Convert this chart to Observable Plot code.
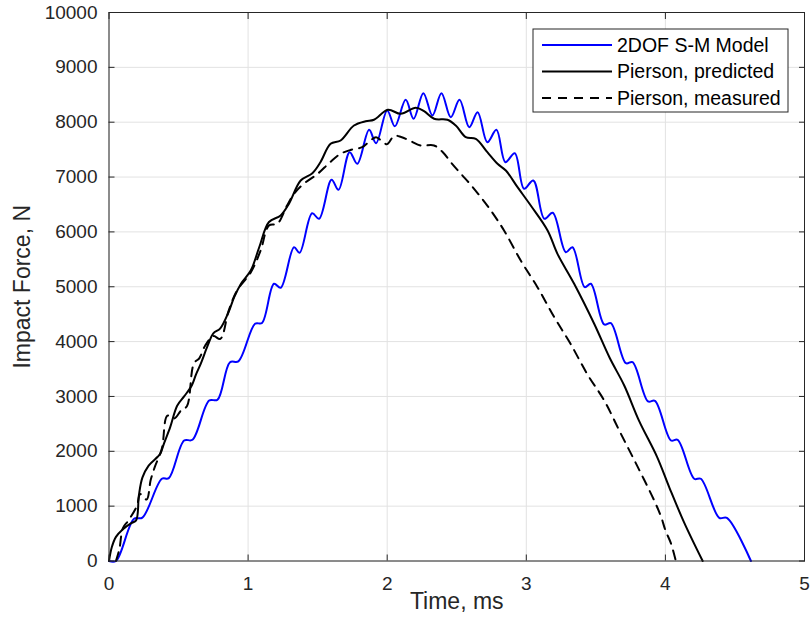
<!DOCTYPE html>
<html>
<head>
<meta charset="utf-8">
<script src="https://cdn.jsdelivr.net/npm/d3@7"></script>
<script src="https://cdn.jsdelivr.net/npm/@observablehq/plot@0.6"></script>
<style>
  html, body { margin: 0; padding: 0; background: #fff; }
  #wrap { position: relative; width: 810px; height: 635px; overflow: hidden; }
  #legend { position: absolute; }
</style>
</head>
<body>
<div id="wrap"></div>
<script>
// ---- tick labels ----
const xTicks = [0, 1, 2, 3, 4, 5];
const yTicks = [0, 1000, 2000, 3000, 4000, 5000, 6000, 7000, 8000, 9000, 10000];

// ---- series names ----
const seriesNames = ["2DOF S-M Model", "Pierson, predicted", "Pierson, measured"];

// ---- 2DOF S-M Model (time ms, force N) ----
const modelTime = [0, 0.05, 0.18, 0.24, 0.38, 0.43, 0.54, 0.60, 0.72, 0.78, 0.87, 0.93, 1.05, 1.10,
  1.186, 1.234, 1.33, 1.37, 1.46, 1.51, 1.60, 1.65, 1.73, 1.785, 1.87, 1.92, 2.00, 2.055, 2.133, 2.19,
  2.26, 2.325, 2.39, 2.457, 2.52, 2.59, 2.65, 2.72, 2.785, 2.85, 2.917, 2.984, 3.05, 3.13, 3.19,
  3.284, 3.332, 3.42, 3.464, 3.56, 3.608, 3.716, 3.764, 3.875, 3.925, 4.04, 4.088, 4.207, 4.255,
  4.387, 4.442, 4.615];
const modelForce = [0, 0, 769, 790, 1499, 1510, 2197, 2210, 2926, 2940, 3625, 3640, 4325, 4340,
  5054, 4981, 5721, 5619, 6341, 6239, 6950, 6767, 7453, 7241, 7861, 7617, 8215, 7925, 8410, 8062,
  8530, 8122, 8530, 8091, 8408, 7909, 8183, 7635, 7861, 7271, 7435, 6786, 6937, 6239, 6350,
  5630, 5721, 4992, 5054, 4312, 4336, 3606, 3625, 2910, 2920, 2197, 2209, 1499, 1499,
  787, 787, 0];

// ---- Pierson, predicted ----
const predTime = [0, 0.02, 0.05, 0.10, 0.16, 0.195, 0.215, 0.24, 0.285, 0.35, 0.37, 0.395, 0.44, 0.49,
  0.54, 0.595, 0.625, 0.66, 0.71, 0.75, 0.80, 0.86, 0.90, 0.95, 1.02, 1.08, 1.15, 1.234, 1.293,
  1.378, 1.462, 1.52, 1.593, 1.665, 1.761, 1.845, 1.905, 2.005, 2.097, 2.205, 2.265, 2.337, 2.433,
  2.493, 2.565, 2.637, 2.72, 2.793, 2.853, 2.937, 3.032, 3.153, 3.224, 3.344, 3.488, 3.60, 3.704,
  3.81, 3.94, 4.03, 4.135, 4.268];
const predForce = [0, 250, 440, 580, 690, 740, 1200, 1520, 1740, 1900, 1960, 2140, 2440, 2830,
  3000, 3200, 3400, 3600, 3930, 4150, 4240, 4540, 4810, 5060, 5300, 5720, 6180, 6300, 6510,
  6937, 7070, 7271, 7606, 7667, 7940, 8018, 8044, 8226, 8153, 8262, 8201, 8062, 8044,
  7940, 7727, 7697, 7453, 7241, 7119, 6815, 6481, 6026, 5600, 5054, 4325, 3700, 3200,
  2560, 1900, 1330, 700, 0];

// ---- Pierson, measured ----
const measTime = [0.05, 0.075, 0.10, 0.14, 0.20, 0.225, 0.27, 0.30, 0.33, 0.38, 0.42, 0.47, 0.52, 0.56,
  0.61, 0.65, 0.69, 0.75, 0.80, 0.86, 0.92, 1.02, 1.09, 1.15, 1.21, 1.28, 1.33, 1.40, 1.50, 1.59,
  1.665, 1.74, 1.82, 1.88, 1.92, 1.97, 2.00, 2.05, 2.10, 2.17, 2.24, 2.337, 2.40, 2.457, 2.53,
  2.60, 2.673, 2.745, 2.84, 2.96, 3.08, 3.20, 3.32, 3.44, 3.56, 3.68, 3.80, 3.92, 3.97, 4.00,
  4.04, 4.075];
const measForce = [0, 220, 600, 740, 1000, 1220, 1120, 1480, 1720, 2050, 2650, 2600, 2750, 2820,
  3600, 3700, 3920, 4100, 4050, 4560, 4930, 5265, 5660, 6117, 6148, 6481, 6695, 6877, 7059, 7271,
  7424, 7497, 7545, 7667, 7727, 7636, 7600, 7750, 7730, 7654, 7575, 7575, 7453, 7271, 7059,
  6860, 6633, 6390, 6026, 5479, 4992, 4450, 3950, 3400, 2926, 2319, 1720, 1100, 800, 560,
  320, 0];

const colors = ["#0000ff", "#000000", "#000000"];
const dashes = [null, null, "9,7"];

const toRows = (ts, fs) => ts.map((t, i) => ({t, f: fs[i]}));
const model = toRows(modelTime, modelForce);
const pred = toRows(predTime, predForce);
const meas = toRows(measTime, measForce);

const axisColor = "#262626";
const gridColor = "#e2e2e2";
const fmt = d => String(d);

const chart = Plot.plot({
  width: 810,
  height: 635,
  marginLeft: 108.5,
  marginRight: 6,
  marginTop: 12,
  marginBottom: 74.5,
  style: {fontFamily: "'Liberation Sans', Arial, Helvetica, sans-serif", fontSize: "19px", color: axisColor, background: "#fff"},
  x: {domain: [0, 5]},
  y: {domain: [0, 10000]},
  marks: [
    Plot.gridX(xTicks, {stroke: gridColor, strokeOpacity: 1}),
    Plot.gridY(yTicks, {stroke: gridColor, strokeOpacity: 1}),
    Plot.line(model, {x: "t", y: "f", stroke: colors[0], strokeWidth: 2, curve: "catmull-rom"}),
    Plot.line(pred, {x: "t", y: "f", stroke: colors[1], strokeWidth: 2, curve: "catmull-rom"}),
    Plot.line(meas, {x: "t", y: "f", stroke: colors[2], strokeWidth: 2, strokeDasharray: dashes[2], curve: "catmull-rom"}),
    Plot.frame({stroke: axisColor, strokeWidth: 1}),
    Plot.axisX(xTicks, {anchor: "bottom", tickSize: 0, tickPadding: 15, tickFormat: fmt, label: null, fill: axisColor}),
    Plot.axisY(yTicks, {anchor: "left", tickSize: 0, tickPadding: 11.5, tickFormat: fmt, label: null, fill: axisColor}),
    Plot.axisX(xTicks, {anchor: "bottom", tickSize: -6, tickFormat: () => "", label: null, stroke: axisColor}),
    Plot.axisX(xTicks, {anchor: "top", tickSize: -6, tickFormat: () => "", label: null, stroke: axisColor}),
    Plot.axisY(yTicks, {anchor: "left", tickSize: -6, tickFormat: () => "", label: null, stroke: axisColor}),
    Plot.axisY(yTicks, {anchor: "right", tickSize: -6, tickFormat: () => "", label: null, stroke: axisColor}),
    Plot.text(["Time, ms"], {text: d => d, frameAnchor: "bottom", textAnchor: "middle", dy: 47.5, fontSize: 23, fill: axisColor}),
    Plot.text(["Impact Force, N"], {text: d => d, frameAnchor: "left", textAnchor: "middle", dx: -86.5, rotate: -90, fontSize: 23, fill: axisColor})
  ]
});

const wrap = document.getElementById("wrap");
wrap.appendChild(chart);

// ---- legend (overlay, top-right inside the axes) ----
const lgLeft = 532, lgTop = 28, lgW = 255, lgH = 83;
const lg = d3.select(wrap).append("svg")
  .attr("id", "legend")
  .attr("width", lgW + 2).attr("height", lgH + 2)
  .style("left", lgLeft + "px").style("top", lgTop + "px");
lg.append("rect").attr("x", 1).attr("y", 1).attr("width", lgW).attr("height", lgH)
  .attr("fill", "#fff").attr("stroke", axisColor).attr("stroke-width", 1);
seriesNames.forEach((name, i) => {
  const cy = 17 + i * 26.5;
  lg.append("line").attr("x1", 10).attr("x2", 80).attr("y1", cy).attr("y2", cy)
    .attr("stroke", colors[i]).attr("stroke-width", 2)
    .attr("stroke-dasharray", dashes[i]);
  lg.append("text").attr("x", 85).attr("y", cy).attr("dy", "0.35em")
    .attr("font-family", "'Liberation Sans', Arial, sans-serif").attr("font-size", 19.5)
    .attr("fill", "#000").text(name);
});
</script>
</body>
</html>
